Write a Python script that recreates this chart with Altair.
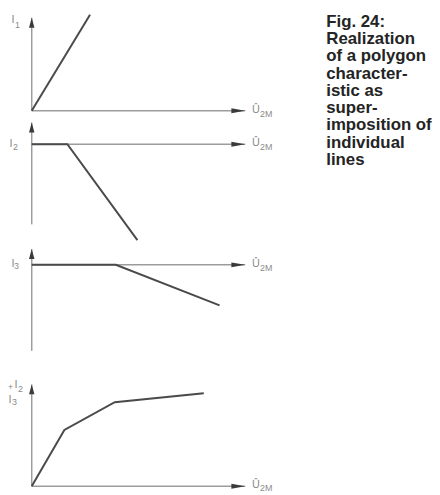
import altair as alt
import pandas as pd

# ---------------- data ----------------
U_AXIS_END = 10.0          # length of every Û2M axis (arbitrary units)

# panel 1: I1
p1_u = [0.0, 2.73]
p1_i = [0.0, 9.7]
# panel 2: I2
p2_u = [0.0, 1.67, 4.95]
p2_i = [0.0, 0.0, -9.7]
# panel 3: I3
p3_u = [0.0, 3.94, 8.8]
p3_i = [0.0, 0.0, -4.1]
# panel 4: I1 + I2 + I3
p4_u = [0.0, 1.53, 3.89, 8.06]
p4_i = [0.0, 5.7, 8.5, 9.4]

# current axes: lower end and arrow tip (same units as the curves)
y_axis_lo = [0.0, -8.1, -8.7, 0.0]
y_axis_tip = [9.4, 2.2, 1.6, 10.3]

# vertical extent of each strip
y_domains = [[-0.6, 9.7], [-10.2, 2.8], [-10.4, 2.0], [-0.8, 12.0]]

caption_lines = ["Fig. 24:", "Realization", "of a polygon", "character-",
                 "istic as", "super-", "imposition of", "individual", "lines"]

# ---------------- styling ----------------
W = 216
PX_PER_UNIT = 10
LINE = "#4a4a4a"
AXIS = "#9c9c9c"
HEAD = "#3a3a3a"
LABEL = "#8a8a8a"
FONT = "Liberation Sans"
UP_ARROW = "M0,0L0.55,2L-0.55,2Z"
RIGHT_ARROW = "M0,0L-2.8,-0.5L-2.8,0.5Z"

one = pd.DataFrame({"k": [0]})


def txt(s, x, y, size, align="left", color=LABEL, weight="normal"):
    return alt.Chart(one).mark_text(
        text=s, align=align, baseline="middle", fontSize=size,
        color=color, font=FONT, fontWeight=weight
    ).encode(x=alt.value(x), y=alt.value(y))


def panel(k, u, i, labels, extra=None, sub_dy=3):
    lo, hi = y_domains[k]
    H = round((hi - lo) * PX_PER_UNIT)
    xs = alt.Scale(domain=[0, U_AXIS_END], nice=False, zero=False)
    ys = alt.Scale(domain=[lo, hi], nice=False, zero=False)

    def X(f):
        return alt.X(f, type="quantitative", scale=xs, axis=None)

    def Y(f):
        return alt.Y(f, type="quantitative", scale=ys, axis=None)

    ax = pd.DataFrame({"u": [0.0], "u2": [U_AXIS_END], "i": [0.0],
                       "lo": [y_axis_lo[k]], "tip": [y_axis_tip[k]]})
    base = alt.Chart(ax)
    xaxis = base.mark_rule(color=AXIS, strokeWidth=1.5).encode(
        x=X("u"), x2="u2", y=Y("i"))
    yaxis = base.mark_rule(color=AXIS, strokeWidth=1.5).encode(
        x=X("u"), y=Y("lo"), y2="tip")
    xhead = base.mark_point(shape=RIGHT_ARROW, filled=True, size=100,
                            color=HEAD, opacity=1).encode(x=X("u2"), y=Y("i"))
    yhead = base.mark_point(shape=UP_ARROW, filled=True, size=100,
                            color=HEAD, opacity=1).encode(x=X("u"), y=Y("tip"))
    ulab = base.mark_text(text="Û", align="left", baseline="middle", dx=7, dy=-1,
                          fontSize=11, color=LABEL, font=FONT).encode(x=X("u2"), y=Y("i"))
    usub = base.mark_text(text="2M", align="left", baseline="middle", dx=15, dy=sub_dy,
                          fontSize=9, color=LABEL, font=FONT).encode(x=X("u2"), y=Y("i"))

    df = pd.DataFrame({"u": u, "i": i, "o": list(range(len(u)))})
    curve = alt.Chart(df).mark_line(color=LINE, strokeWidth=2, strokeJoin="miter").encode(
        x=X("u"), y=Y("i"), order="o:Q")

    layers = [xaxis, yaxis, curve, xhead, yhead, ulab, usub] + labels
    if extra is not None:
        layers += extra
    return alt.layer(*layers).properties(width=W, height=H)


cap = alt.Chart(one).mark_text(
    text=caption_lines, align="left", baseline="top", fontSize=17,
    fontWeight="bold", lineHeight=17.5, color="#242424", font=FONT
).encode(x=alt.value(298), y=alt.value(-1))

p1 = panel(0, p1_u, p1_i, [txt("I", -19, 5, 11, "center"), txt("1", -17, 10, 9)], [cap])
p2 = panel(1, p2_u, p2_i, [txt("I", -21, 28, 11, "center"), txt("2", -19, 30.5, 9)])
p3 = panel(2, p3_u, p3_i, [txt("I", -19, 19, 11, "center"), txt("3", -18, 21, 9)])
p4 = panel(3, p4_u, p4_i, [txt("+", -24, 20, 9), txt("I", -16, 18, 11, "center"),
                            txt("2", -14, 22, 9), txt("I", -22, 33, 11, "center"),
                            txt("3", -20, 35, 9)], sub_dy=2)

chart = alt.vconcat(p1, p2, p3, p4, spacing=0, bounds="flush").properties(
    padding={"left": 0, "top": 0, "right": 0, "bottom": 0}
).configure_view(stroke=None)

chart.save("out.html", embed_options={"renderer": "svg", "actions": False})
